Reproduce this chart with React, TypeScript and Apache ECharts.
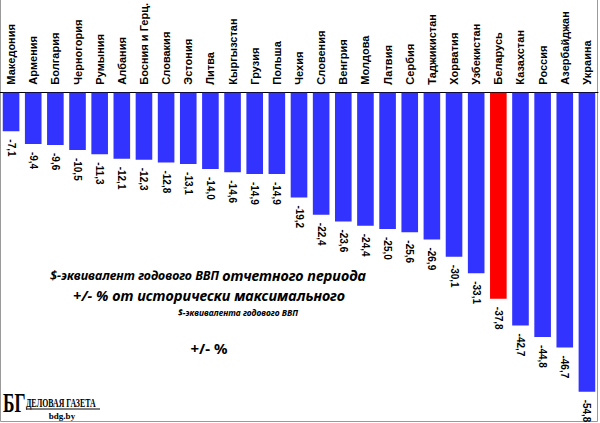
import React, { useEffect, useRef } from "react";
import * as echarts from "echarts";

const categories: string[] = [
  "Македония", "Армения", "Болгария", "Черногория", "Румыния", "Албания",
  "Босния и Герц.", "Словакия", "Эстония", "Литва", "Кыргызстан", "Грузия",
  "Польша", "Чехия", "Словения", "Венгрия", "Молдова", "Латвия", "Сербия",
  "Таджикистан", "Хорватия", "Узбекистан", "Беларусь", "Казахстан", "Россия",
  "Азербайджан", "Украина",
];

const values: number[] = [
  -7.1, -9.4, -9.6, -10.5, -11.3, -12.1, -12.3, -12.8, -13.1, -14.0, -14.6,
  -14.9, -14.9, -19.2, -22.4, -23.6, -24.4, -25.0, -25.6, -26.9, -30.1, -33.1,
  -37.8, -42.7, -44.8, -46.7, -54.8,
];

const highlight = "Беларусь";
const yTicks = { min: -60, max: 0, interval: 10 };

const titleLine1a = "$-эквивалент годового ВВП ";
const titleLine1b = "отчетного периода";
const titleLine2 = "+/- % от исторически максимального";
const titleLine3 = "$-эквивалента годового ВВП";
const titleLine4 = "+/- %";

export default function App() {
  const ref = useRef<HTMLDivElement>(null);
  useEffect(() => {
    if (!ref.current) return;
    const chart = echarts.init(ref.current, undefined, { renderer: "svg" });
    const noteFont = "'Noto Sans', 'Open Sans', sans-serif";
    const serif = "'Liberation Serif', 'DejaVu Serif', serif";
    chart.setOption({
      animation: false,
      backgroundColor: "#ffffff",
      grid: { left: 0, right: 2, top: 90, bottom: 3, containLabel: false },
      xAxis: {
        type: "category",
        position: "top",
        data: categories,
        axisLine: { show: true, lineStyle: { color: "#000000", width: 1 } },
        axisTick: { show: false },
        axisLabel: {
          rotate: 90,
          interval: 0,
          margin: 8,
          fontSize: 11,
          fontWeight: "bold",
          fontFamily: "'Liberation Sans', Arial, sans-serif",
          color: "#000000",
        },
      },
      yAxis: {
        type: "value",
        min: yTicks.min,
        max: yTicks.max,
        interval: yTicks.interval,
        show: false,
        splitLine: { show: false },
      },
      series: [
        {
          type: "bar",
          barCategoryGap: "25%",
          data: values.map((v, i) => ({
            value: v,
            itemStyle: { color: categories[i] === highlight ? "#ff0000" : "#3333ff" },
          })),
          label: {
            show: true,
            position: "bottom",
            distance: 7,
            rotate: -90,
            align: "left",
            verticalAlign: "middle",
            offset: [1, 0],
            fontSize: 10,
            fontWeight: "bold",
            fontFamily: "'Liberation Sans', Arial, sans-serif",
            color: "#000000",
            formatter: (p: any) => (p.value as number).toFixed(1).replace(".", ","),
          },
        },
      ],
      graphic: [
        {
          type: "polyline",
          shape: { points: [[0.5, 0], [0.5, 421.5], [597.5, 421.5], [597.5, 0]] },
          style: { fill: "none", stroke: "#9a9a9a", lineWidth: 1 },
          silent: true,
        },
        {
          type: "text",
          x: 208,
          y: 275,
          style: {
            text: "{a|" + titleLine1a + "}{b|" + titleLine1b + "}",
            align: "center",
            verticalAlign: "middle",
            rich: {
              a: { fontSize: 12.5, fontWeight: "bold", fontStyle: "italic", fontFamily: noteFont, fill: "#000" },
              b: { fontSize: 14.5, fontWeight: "bold", fontStyle: "italic", fontFamily: noteFont, fill: "#000" },
            },
          },
        },
        {
          type: "text",
          x: 209,
          y: 295,
          style: {
            text: titleLine2,
            align: "center",
            verticalAlign: "middle",
            fontSize: 14.5,
            fontWeight: "bold",
            fontStyle: "italic",
            fontFamily: noteFont,
            fill: "#000",
          },
        },
        {
          type: "text",
          x: 238,
          y: 312,
          style: {
            text: titleLine3,
            align: "center",
            verticalAlign: "middle",
            fontSize: 8.5,
            fontWeight: "bold",
            fontStyle: "italic",
            fontFamily: noteFont,
            fill: "#000",
          },
        },
        {
          type: "text",
          x: 209,
          y: 348,
          style: {
            text: titleLine4,
            align: "center",
            verticalAlign: "middle",
            fontSize: 15,
            fontWeight: "bold",
            fontFamily: noteFont,
            fill: "#000",
          },
        },
        {
          type: "text",
          x: 3,
          y: 388,
          scaleX: 0.62,
          style: {
            text: "БГ",
            fontSize: 28,
            fontWeight: "bold",
            fontFamily: serif,
            fill: "#000",
          },
        },
        {
          type: "text",
          x: 26,
          y: 396,
          scaleX: 0.6,
          style: {
            text: "ДЕЛОВАЯ ГАЗЕТА",
            fontSize: 13,
            fontWeight: "bold",
            fontFamily: serif,
            fill: "#000",
          },
        },
        {
          type: "line",
          shape: { x1: 26, y1: 409, x2: 100, y2: 409 },
          style: { stroke: "#000", lineWidth: 1 },
        },
        {
          type: "text",
          x: 62,
          y: 416,
          style: {
            text: "bdg.by",
            align: "center",
            verticalAlign: "middle",
            fontSize: 9,
            fontWeight: "bold",
            fontFamily: serif,
            fill: "#000",
          },
        },
      ],
    });
    return () => chart.dispose();
  }, []);
  return (
    <div
      ref={ref}
      style={{ position: "fixed", left: 0, top: 0, width: 600, height: 423 }}
    />
  );
}
